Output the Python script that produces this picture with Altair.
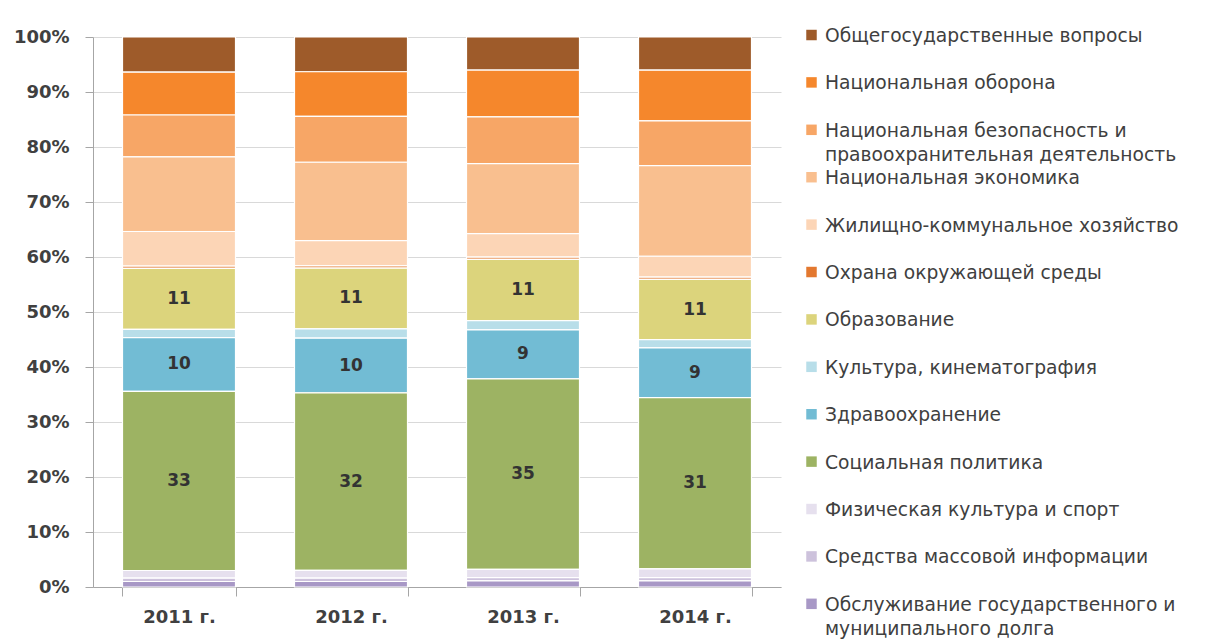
import altair as alt
import pandas as pd

years = ["2011 г.", "2012 г.", "2013 г.", "2014 г."]

categories = [
    "Общегосударственные вопросы",
    "Национальная оборона",
    "Национальная безопасность и правоохранительная деятельность",
    "Национальная экономика",
    "Жилищно-коммунальное хозяйство",
    "Охрана окружающей среды",
    "Образование",
    "Культура, кинематография",
    "Здравоохранение",
    "Социальная политика",
    "Физическая культура и спорт",
    "Средства массовой информации",
    "Обслуживание государственного и муниципального долга",
]

legend_text = [
    "Общегосударственные вопросы",
    "Национальная оборона",
    "Национальная безопасность и\nправоохранительная деятельность",
    "Национальная экономика",
    "Жилищно-коммунальное хозяйство",
    "Охрана окружающей среды",
    "Образование",
    "Культура, кинематография",
    "Здравоохранение",
    "Социальная политика",
    "Физическая культура и спорт",
    "Средства массовой информации",
    "Обслуживание государственного и\nмуниципального долга",
]

colors = [
    "#9e5b2a", "#f5872c", "#f7a666", "#f9bf8f", "#fcd5b6", "#e3782f",
    "#dcd47c", "#b8dee9", "#72bcd4", "#9db363", "#e6e0ee", "#cdc2dc", "#a898c6",
]

# shares, % (same order as categories)
s2011 = [6.4, 7.8, 7.6, 13.6, 6.3, 0.4, 11.1, 1.5, 9.8, 32.6, 1.4, 0.6, 1.0]
s2012 = [6.3, 8.1, 8.3, 14.2, 4.6, 0.4, 11.0, 1.7, 9.9, 32.2, 1.4, 0.6, 1.0]
s2013 = [6.0, 8.5, 8.5, 12.7, 4.3, 0.4, 11.1, 1.7, 8.9, 34.6, 1.5, 0.6, 1.1]
s2014 = [6.0, 9.2, 8.1, 16.4, 3.8, 0.4, 10.9, 1.5, 9.0, 31.0, 1.6, 0.6, 1.1]

labeled = ["Образование", "Здравоохранение", "Социальная политика"]

y_ticks = [0, 0.1, 0.2, 0.3, 0.4, 0.5, 0.6, 0.7, 0.8, 0.9, 1.0]

rows = []
for yr, vals in zip(years, [s2011, s2012, s2013, s2014]):
    for i, (c, v) in enumerate(zip(categories, vals)):
        rows.append({"year": yr, "cat": c, "pos": i, "value": v})
df = pd.DataFrame(rows)

color_scale = alt.Scale(domain=categories, range=colors)
x_enc = alt.X(
    "year:N", sort=years,
    scale=alt.Scale(paddingInner=0.343, paddingOuter=0.1715),
    axis=alt.Axis(
        title=None, labelAngle=0, tickBand="extent", grid=False,
        labelFont="DejaVu Sans", labelFontWeight="bold", labelFontSize=18,
        labelColor="#404040", labelPadding=12, tickSize=9,
        tickColor="#a6a6a6", domainColor="#a6a6a6",
    ),
)

bars = alt.Chart(df).mark_bar(stroke="white", strokeWidth=1.2).encode(
    x=x_enc,
    y=alt.Y(
        "value:Q", stack="normalize",
        scale=alt.Scale(domain=[0, 1], nice=False),
        axis=alt.Axis(
            title=None, format=".0%", values=y_ticks,
            labelFont="DejaVu Sans", labelFontWeight="bold", labelFontSize=18,
            labelColor="#404040", labelPadding=16, tickSize=8,
            tickColor="#a6a6a6", domainColor="#a6a6a6", gridColor="#d9d9d9",
        ),
    ),
    color=alt.Color("cat:N", scale=color_scale, legend=None),
    order=alt.Order("pos:Q", sort="descending"),
)

labels = alt.Chart(df).transform_stack(
    stack="value", groupby=["year"], as_=["v0", "v1"], offset="normalize",
    sort=[alt.SortField(field="pos", order="descending")],
).transform_filter(
    alt.FieldOneOfPredicate(field="cat", oneOf=labeled)
).transform_calculate(
    mid="(datum.v0 + datum.v1) / 2"
).mark_text(font="DejaVu Sans", fontWeight="bold", fontSize=17, color="#333333").encode(
    x=alt.X("year:N", sort=years),
    y=alt.Y("mid:Q"),
    text=alt.Text("value:Q", format=".0f"),
)

main = alt.layer(bars, labels).properties(width=688, height=550)

leg_df = pd.DataFrame({"cat": categories, "idx": list(range(len(categories))), "txt": legend_text})
leg_y = alt.Y("idx:Q", scale=alt.Scale(domain=[0.042, 11.645], reverse=True, nice=False, zero=False), axis=None)

sq = alt.Chart(leg_df).mark_square(size=110, opacity=1).encode(
    x=alt.value(5.5), y=leg_y,
    color=alt.Color("cat:N", scale=color_scale, legend=None),
)
tx = alt.Chart(leg_df).mark_text(
    align="left", baseline="top", dy=-8, lineBreak="\n", lineHeight=24,
    font="DejaVu Sans", fontSize=18.7, color="#404040",
).encode(x=alt.value(19), y=leg_y, text="txt:N")

legend = alt.layer(sq, tx).properties(width=370, height=550)

chart = alt.hconcat(main, legend, spacing=25).configure_view(stroke=None).properties(
    padding={"left": 5, "top": 19, "right": 5, "bottom": 5}
)

chart.save("out.html", embed_options={"renderer": "svg", "actions": False})
